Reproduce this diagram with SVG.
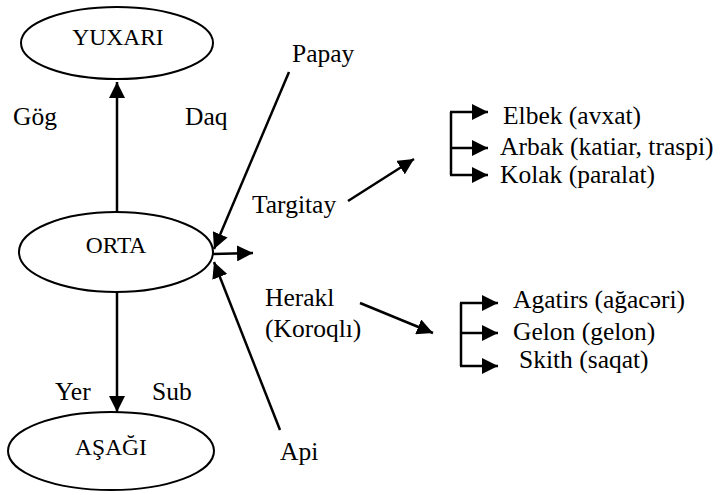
<svg xmlns="http://www.w3.org/2000/svg" width="724" height="495" viewBox="0 0 724 495">
<style>
text{font-family:'Liberation Serif','Times New Roman',serif;font-size:25.5px;fill:#000}
.n text{font-size:23.5px;text-anchor:middle}
.n ellipse{fill:#fff;stroke:#000;stroke-width:2}
.c line,.c path{stroke:#000;stroke-width:2.5;fill:none}
.c .a{marker-end:url(#ah)}
</style>
<defs>
<marker id="ah" markerUnits="userSpaceOnUse" markerWidth="16" markerHeight="16" refX="15" refY="7.5" orient="auto" viewBox="0 0 15 15">
<path d="M0,0 L15,7.5 L0,15 z" fill="#000"/>
</marker>
</defs>
<g class="c" id="connectors">
<line class="a" x1="117" y1="212" x2="117" y2="82"/>
<line class="a" x1="117" y1="292" x2="117" y2="412"/>
<line class="a" x1="289" y1="72" x2="214" y2="249"/>
<line class="a" x1="280" y1="430" x2="214" y2="262"/>
<line class="a" x1="213" y1="254" x2="253" y2="253"/>
<line class="a" x1="348" y1="201" x2="414" y2="159"/>
<line class="a" x1="360" y1="303" x2="433" y2="333"/>
<path d="M451,112 V175"/>
<line class="a" x1="450" y1="112" x2="488" y2="112"/>
<line class="a" x1="451" y1="148" x2="488" y2="148"/>
<line class="a" x1="450" y1="175" x2="488" y2="175"/>
<path d="M461,303 V366"/>
<line class="a" x1="460" y1="303" x2="498" y2="303"/>
<line class="a" x1="461" y1="333" x2="498" y2="333"/>
<line class="a" x1="460" y1="366" x2="498" y2="366"/>
</g>
<g class="n" id="yuxari"><ellipse cx="117" cy="43" rx="96" ry="36"/><text x="118" y="45">YUXARI</text></g>
<g class="n" id="orta"><ellipse cx="116" cy="252" rx="97" ry="40"/><text x="116" y="253">ORTA</text></g>
<g class="n" id="asagi"><ellipse cx="111" cy="451" rx="103" ry="39"/><text x="111" y="455">AŞAĞI</text></g>
<g id="labels">
<text x="13" y="125">Gög</text>
<text x="185" y="125">Daq</text>
<text x="55" y="400">Yer</text>
<text x="152" y="400">Sub</text>
</g>
<g id="papay"><text x="292" y="62">Papay</text></g>
<g id="targitay"><text x="252" y="213">Targitay</text></g>
<g id="herakl"><text x="265" y="306">Herakl</text><text x="265" y="337">(Koroqlı)</text></g>
<g id="api"><text x="280" y="460">Api</text></g>
<g id="elbek"><text x="503" y="124">Elbek (avxat)</text></g>
<g id="arbak"><text x="500" y="155">Arbak (katiar, traspi)</text></g>
<g id="kolak"><text x="500" y="183">Kolak (paralat)</text></g>
<g id="agatirs"><text x="513" y="308">Agatirs (ağacəri)</text></g>
<g id="gelon"><text x="513" y="340">Gelon (gelon)</text></g>
<g id="skith"><text x="519" y="368">Skith (saqat)</text></g>
</svg>
